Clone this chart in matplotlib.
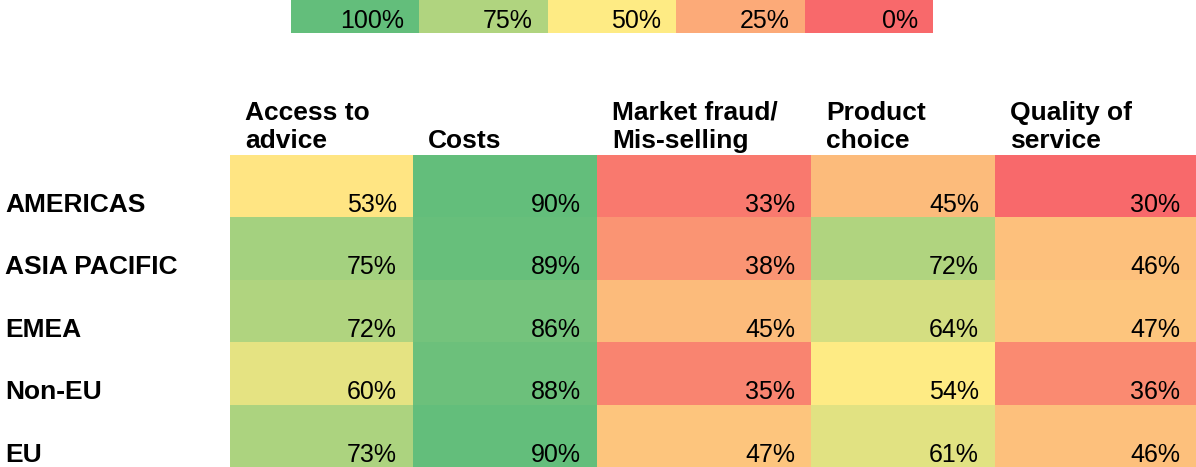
import matplotlib.pyplot as plt
import numpy as np
from matplotlib.colors import LinearSegmentedColormap, TwoSlopeNorm, Normalize

plt.rcParams['font.family'] = ['Liberation Sans', 'DejaVu Sans']

regions = ['AMERICAS', 'ASIA PACIFIC', 'EMEA', 'Non-EU', 'EU']
categories = ['Access to\nadvice', 'Costs', 'Market fraud/\nMis-selling', 'Product\nchoice', 'Quality of\nservice']
americas = [53, 90, 33, 45, 30]
asia_pacific = [75, 89, 38, 72, 46]
emea = [72, 86, 45, 64, 47]
non_eu = [60, 88, 35, 54, 36]
eu = [73, 90, 47, 61, 46]
legend_levels = [100, 75, 50, 25, 0]

values = np.array([americas, asia_pacific, emea, non_eu, eu])

# excel style 3-colour scale: red -> yellow -> green
cmap = LinearSegmentedColormap.from_list('ryg', ['#F8696B', '#FFEB84', '#63BE7B'])
norm = TwoSlopeNorm(vmin=values.min(), vcenter=np.median(values), vmax=values.max())

W, H = 1196, 467
fig = plt.figure(figsize=(W / 100, H / 100), dpi=100)
ax = fig.add_axes([0, 0, 1, 1])
ax.set_xlim(0, W)
ax.set_ylim(H, 0)
ax.axis('off')

fs = 18
fs_bold = 19

# legend strip
lx = np.linspace(291, 933, len(legend_levels) + 1)
ly = [0, 33]
ax.pcolormesh(lx, ly, np.array([legend_levels]), cmap=cmap, norm=Normalize(0, 100))
for i, lv in enumerate(legend_levels):
    ax.text(lx[i + 1] - 15, 28, f'{lv}%', ha='right', va='baseline', fontsize=fs)

# table
col_edges = [230, 413, 597, 811, 995, 1196]
row_top = 155
row_h = (H - row_top) / len(regions)
row_edges = [row_top + i * row_h for i in range(len(regions) + 1)]
ax.pcolormesh(col_edges, row_edges, values, cmap=cmap, norm=norm)

for j, cat in enumerate(categories):
    lines = cat.split('\n')
    for k, line in enumerate(reversed(lines)):
        ax.text(col_edges[j] + 15, 148 - 28 * k, line, ha='left', va='baseline',
                fontsize=fs_bold, fontweight='bold')

for i, reg in enumerate(regions):
    base = row_edges[i + 1] - 5.5
    ax.text(5, base, reg, ha='left', va='baseline', fontsize=fs_bold, fontweight='bold')
    for j in range(len(categories)):
        ax.text(col_edges[j + 1] - 16, base, f'{values[i, j]}%', ha='right',
                va='baseline', fontsize=fs)

fig.savefig('out.png', dpi=100)
